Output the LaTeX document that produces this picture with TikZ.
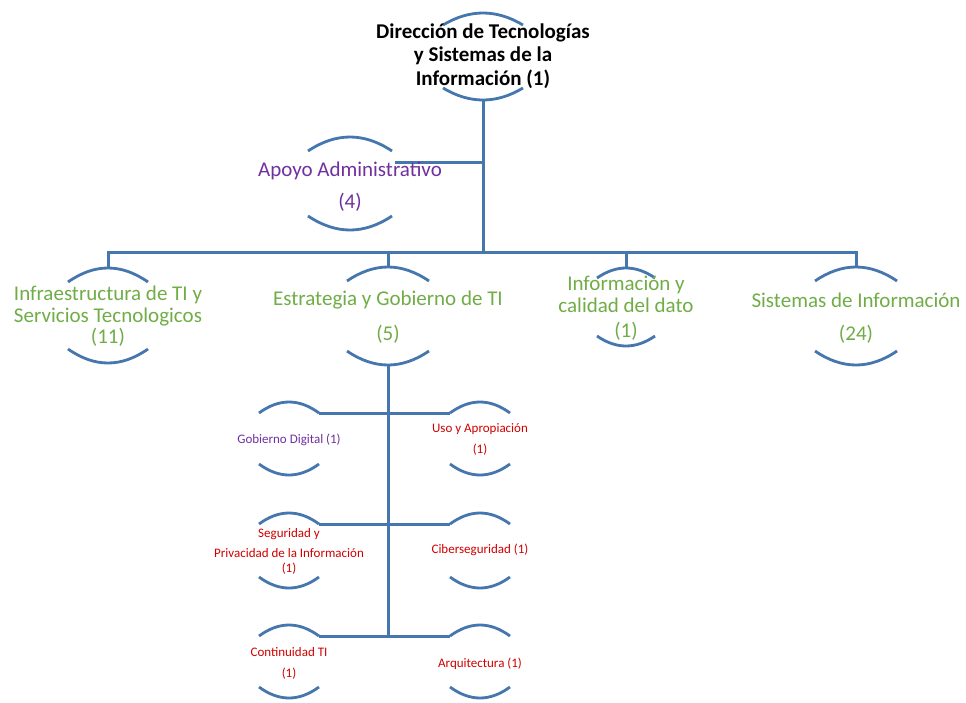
\documentclass[tikz,border=0pt]{standalone}
\usepackage{fontspec}
\setmainfont{Carlito}
\definecolor{lineblue}{HTML}{4676AE}
\definecolor{grn}{HTML}{70AD47}
\definecolor{prp}{HTML}{7030A0}
\definecolor{rd}{HTML}{D00000}
\newcommand\bracketunit[6]{%
  \coordinate (#1-t) at (#2,#3);
  \coordinate (#1-b) at (#2,#4);
  \coordinate (#1-tl) at ({#2-#5},{#3+#6});
  \coordinate (#1-tr) at ({#2+#5},{#3+#6});
  \coordinate (#1-bl) at ({#2-#5},{#4-#6});
  \coordinate (#1-br) at ({#2+#5},{#4-#6});
  \draw[arcln] (#1-tl) .. controls ({#2-#5/3},{#3-#6/3}) and ({#2+#5/3},{#3-#6/3}) .. (#1-tr);
  \draw[arcln] (#1-bl) .. controls ({#2-#5/3},{#4+#6/3}) and ({#2+#5/3},{#4+#6/3}) .. (#1-br);
}
\newcommand\ctab[1]{\begin{tabular}[t]{@{}c@{}}#1\end{tabular}}
\tikzset{
  ln/.style={draw=lineblue, line width=3pt},
  arcln/.style={draw=lineblue, line width=2.8pt},
  lbl/.style={anchor=base, inner sep=0pt},
  topfont/.style={font=\fontsize{21}{23.5}\selectfont\bfseries, text=black},
  bigfont/.style={font=\fontsize{21}{22}\selectfont},
  smallfont/.style={font=\fontsize{13}{15}\selectfont},
}
\begin{document}
\begin{tikzpicture}[x=1pt,y=-1pt]
\fill[white] (0,0) rectangle (966,702);
\useasboundingbox (0,0) rectangle (966,702);

% bracket shapes
\bracketunit{dir}{483}{13}{100}{40}{12}
\bracketunit{apoyo}{350}{137}{230}{42}{14}
\bracketunit{infra}{108}{268}{363}{40}{14}
\bracketunit{estr}{388}{267}{365}{41}{14}
\bracketunit{info}{626}{268}{346}{29}{10}
\bracketunit{sis}{856}{267}{365}{41}{14}
\bracketunit{gd}{289}{402}{475}{30}{11}
\bracketunit{uso}{480}{402}{475}{30}{11}
\bracketunit{seg}{289}{513}{588}{30}{11}
\bracketunit{cib}{480}{513}{588}{30}{11}
\bracketunit{cont}{289}{625}{698}{30}{11}
\bracketunit{arq}{480}{625}{698}{30}{11}

% junction coordinates
\coordinate (bar) at (483,252);
\coordinate (apoyo-r) at (395,162);
\coordinate (subend) at (388,636);

% connectors
\draw[ln] (dir-b) -- (bar);
\draw[ln] (apoyo-r) -- (apoyo-r -| dir-b);
\draw[ln] (infra-t) |- (bar) -| (sis-t);
\draw[ln] (estr-t) -- (estr-t |- bar);
\draw[ln] (info-t) -- (info-t |- bar);
\draw[ln] (estr-b) -- (subend);
\draw[ln] (gd-tr) -- (uso-tl);
\draw[ln] (seg-tr) -- (cib-tl);
\draw[ln] (cont-tr) -- (arq-tl);

% labels
\node[lbl, topfont] (dirL) at (483,38) {\ctab{Dirección de Tecnologías\\y Sistemas de la\\Información (1)}};
\node[lbl, bigfont, text=prp] (apoyoL) at (350,176) {\ctab{Apoyo Administrativo\\[10pt](4)}};
\node[lbl, bigfont, text=grn] (infraL) at (108,300) {\ctab{Infraestructura de TI y\\Servicios Tecnologicos\\[-1pt](11)}};
\node[lbl, bigfont, text=grn] (estrL) at (388,305) {\ctab{Estrategia y Gobierno de TI\\[13pt](5)}};
\node[lbl, bigfont, text=grn] (infoL) at (626,290) {\ctab{Información y\\calidad del dato\\[3pt](1)}};
\node[lbl, bigfont, text=grn] (sisL) at (856,307) {\ctab{Sistemas de Información\\[11pt](24)}};

\node[lbl, smallfont, text=prp] (gdL) at (289,443) {Gobierno Digital (1)};
\node[lbl, smallfont, text=rd] (usoL) at (480,432) {\ctab{Uso y Apropiación\\[6pt](1)}};
\node[lbl, smallfont, text=rd] (segL) at (289,537) {\ctab{Seguridad y\\[5pt]Privacidad de la Información\\(1)}};
\node[lbl, smallfont, text=rd] (cibL) at (480,553) {Ciberseguridad (1)};
\node[lbl, smallfont, text=rd] (contL) at (289,656) {\ctab{Continuidad TI\\[6pt](1)}};
\node[lbl, smallfont, text=rd] (arqL) at (480,667) {Arquitectura (1)};
\end{tikzpicture}
\end{document}
